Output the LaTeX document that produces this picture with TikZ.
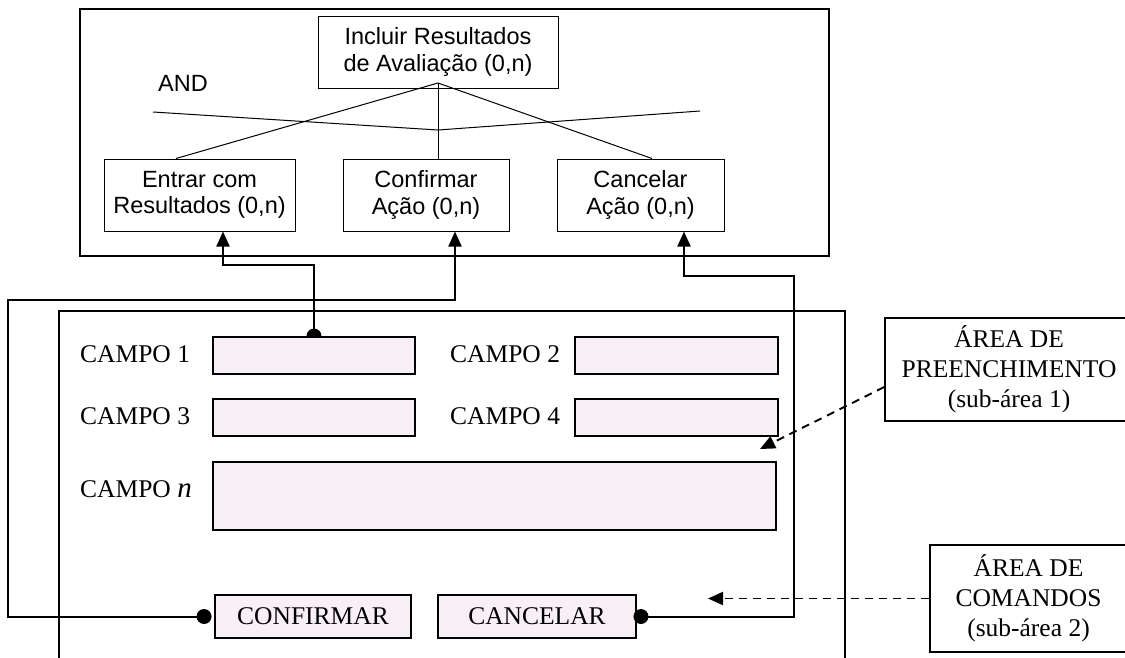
\documentclass[tikz,border=0pt]{standalone}
\usepackage{fontspec}
\setmainfont{Liberation Serif}
\newfontfamily\arialf{Liberation Sans}
\usetikzlibrary{arrows.meta,calc,backgrounds}
\definecolor{fieldpink}{RGB}{249,240,247}
\begin{document}
\begin{tikzpicture}[x=1pt,y=-1pt,
  tbox/.style={draw, line width=1pt, align=center, inner sep=0pt,
    font=\arialf\fontsize{23.5}{26.5}\selectfont},
  field/.style={draw, line width=1.9pt, fill=fieldpink, inner sep=0pt},
  btn/.style={field, font=\fontsize{25.5}{30}\selectfont},
  lbl/.style={font=\fontsize{25.5}{30}\selectfont, anchor=base west, inner sep=0pt},
  note/.style={draw, line width=1.5pt, fill=white, align=center, inner sep=0pt,
    font=\fontsize{25.5}{30}\selectfont},
  conn/.style={line width=2pt, -{Triangle[length=15pt,width=13pt]}},
  dashconn/.style={line width=1.9pt, dash pattern=on 8pt off 6pt, -{Triangle[length=15pt,width=13pt]}},
  thinline/.style={line width=1pt},
  dotstyle/.style={fill=black}
]
\useasboundingbox (0,0) rectangle (1125,657);

% top area
\node[draw, line width=2pt, minimum width=749pt, minimum height=247pt, inner sep=0pt] (top) at (454.5,132.5) {};
\node[tbox, minimum width=240pt, minimum height=72pt] (root) at (438,52) {Incluir Resultados\\de Avaliação (0,n)};
\node[tbox, minimum width=191pt, minimum height=72pt] (entrar) at (199.5,195) {Entrar com\\Resultados (0,n)};
\node[tbox, minimum width=166pt, minimum height=72pt] (confirmar) at (426,195) {Confirmar\\Ação (0,n)};
\node[tbox, minimum width=167pt, minimum height=72pt] (cancelar) at (640.5,195) {Cancelar\\Ação (0,n)};
\node[font=\arialf\fontsize{23.5}{26.5}\selectfont, inner sep=0pt] (and) at (183,83) {AND};

\coordinate (apex) at (438,83);
\coordinate (andL) at (153,112);
\coordinate (andM) at (438,130);
\coordinate (andR) at (700,111);
\draw[thinline] (andL) -- (andM) -- (andR);
\draw[thinline] (apex) -- ([xshift=-23.5pt]entrar.north);
\draw[thinline] (apex) -- (confirmar.north -| apex);
\draw[thinline] (apex) -- ([xshift=11.5pt]cancelar.north);

% form area
\coordinate (formBL) at (59,670);
\coordinate (formTL) at (59,311);
\coordinate (formTR) at (845,311);
\coordinate (formBR) at (845,670);
\draw[line width=1.5pt] (formBL) -- (formTL) -- (formTR) -- (formBR);

\node[field, minimum width=202pt, minimum height=37pt] (f1) at (314,355.5) {};
\node[field, minimum width=203pt, minimum height=37pt] (f2) at (676.5,355.5) {};
\node[field, minimum width=202pt, minimum height=37pt] (f3) at (314,417.5) {};
\node[field, minimum width=203pt, minimum height=37pt] (f4) at (676.5,417.5) {};
\node[field, minimum width=563pt, minimum height=68pt] (fn) at (494.5,496) {};
\node[btn, minimum width=196pt, minimum height=43pt] (bconf) at (313,616.5) {CONFIRMAR};
\node[btn, minimum width=198pt, minimum height=43pt] (bcanc) at (537,616.5) {CANCELAR};

\node[lbl] (l1) at (80,362) {CAMPO 1};
\node[lbl] (l2) at (450,362) {CAMPO 2};
\node[lbl] (l3) at (80,424) {CAMPO 3};
\node[lbl] (l4) at (450,424) {CAMPO 4};
\node[lbl] (ln) at (80,497) {CAMPO {\fontsize{29}{30}\selectfont\textit{n}}};

% notes
\node[note, minimum width=248pt, minimum height=103pt] (pre) at (1009,369.5) {ÁREA DE\\PREENCHIMENTO\\(sub-área 1)};
\node[note, minimum width=197pt, minimum height=107pt] (com) at (1028.5,598.5) {ÁREA DE\\COMANDOS\\(sub-área 2)};

% connectors
\coordinate (c2a) at (8,300);
\coordinate (c3a) at (794,276);
\coordinate (t1) at (760,449);
\coordinate (t2) at (708,598.5);
\begin{scope}[on background layer]
  \fill[dotstyle] (f1.north) circle[radius=7.5pt];
  \draw[conn] (f1.north) -- ++(0,-71) -| ([xshift=23.5pt]entrar.south);
  \draw[conn] ([xshift=-10pt]bconf.west) -| (c2a) -| ([xshift=29pt]confirmar.south);
  \draw[conn] ([xshift=4pt]bcanc.east) -| (c3a) -| ([xshift=43.5pt]cancelar.south);
\end{scope}
\fill[dotstyle] ([xshift=-10pt]bconf.west) circle[radius=7.5pt];
\fill[dotstyle] ([xshift=4pt]bcanc.east) circle[radius=7.5pt];

\draw[dashconn] ([yshift=-17.5pt]pre.west) -- (t1);
\draw[dashconn] (com.west) -- (t2);
\end{tikzpicture}
\end{document}
